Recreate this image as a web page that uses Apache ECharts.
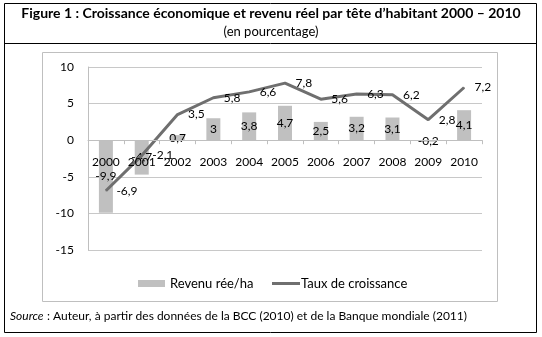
<!DOCTYPE html>
<html><head><meta charset="utf-8">
<script src="https://cdn.jsdelivr.net/npm/echarts@6/dist/echarts.min.js"></script>
<style>html,body{margin:0;padding:0;background:#fff}#c{width:542px;height:337px}</style>
</head><body><div id="c"></div>
<script>
const categories = ['2000','2001','2002','2003','2004','2005','2006','2007','2008','2009','2010'];
const revenu = [-9.9, -4.7, 0.7, 3, 3.8, 4.7, 2.5, 3.2, 3.1, -0.2, 4.1];
const croissance = [-6.9, -2.1, 3.5, 5.8, 6.6, 7.8, 5.6, 6.3, 6.2, 2.8, 7.2];
const yTicks = [-15, -10, -5, 0, 5, 10];

const FONT = 'Lato';
const fmt = v => String(v).replace('.', ',');
const GRID = {left: 88, right: 60, top: 67, bottom: 87};
const gridH = 337 - GRID.top - GRID.bottom;
const yMin = yTicks[0], yMax = yTicks[yTicks.length-1];
const zeroOffset = -gridH * (0 - yMin) / (yMax - yMin);

const chart = echarts.init(document.getElementById('c'), null, {renderer:'canvas'});
chart.setOption({
  animation: false,
  textStyle: {fontFamily: FONT},
  graphic: [
    {type:'rect', shape:{x:4.5,y:3.5,width:532,height:329}, style:{fill:'none', stroke:'#000', lineWidth:1}},
    {type:'line', shape:{x1:4,y1:43.5,x2:537,y2:43.5}, style:{stroke:'#000', lineWidth:1}},
    {type:'rect', shape:{x:42.5,y:52.5,width:455,height:249}, style:{fill:'none', stroke:'#BFBFBF', lineWidth:1}},
    {type:'text', left:'center', top:6, style:{text:"Figure 1 : Croissance économique et revenu réel par tête d\u2019habitant 2000 \u2013 2010", font:'bold 14px Lato', fill:'#000'}},
    {type:'text', left:'center', top:25, style:{text:'(en pourcentage)', font:'13px Lato', fill:'#000'}},
    {type:'text', left:10, top:310, style:{rich:{i:{fontStyle:'italic', fontSize:12, fontFamily:FONT}, n:{fontSize:12, fontFamily:FONT}}, text:'{i|Source} {n|: Auteur, à partir des données de la BCC (2010) et de la Banque mondiale (2011)}', fill:'#000'}}
  ],
  legend: [
    {left: 133, top: 272, itemWidth: 27, itemHeight: 7,
     textStyle: {fontFamily: FONT, fontSize: 13, color:'#000'},
     data: [{name:'Revenu rée/ha', icon:'rect'}]},
    {left: 267, top: 272, itemWidth: 28, itemHeight: 3,
     textStyle: {fontFamily: FONT, fontSize: 13, color:'#000', padding:[0,0,0,-4]},
     data: [{name:'Taux de croissance', icon:'rect'}]}
  ],
  grid: Object.assign({containLabel: false}, GRID),
  xAxis: {
    type: 'category', data: categories, position: 'bottom', offset: zeroOffset, z: 5,
    axisLine: {onZero: false, lineStyle: {color:'#BFBFBF', width:1}},
    axisTick: {show: true, length: 4, lineStyle:{color:'#BFBFBF'}},
    axisLabel: {color:'#000', fontSize:12, fontFamily:FONT, margin:16, interval:0}
  },
  yAxis: {
    type: 'value', min: yMin, max: yMax, interval: 5,
    axisLine: {show: true, lineStyle:{color:'#BFBFBF'}},
    axisTick: {show: false},
    splitLine: {lineStyle:{color:'#C8C8C8'}},
    axisLabel: {color:'#000', fontSize:12, fontFamily:FONT, margin:14}
  },
  series: [
    {name:'Revenu rée/ha', type:'bar', data: revenu, barWidth: 14,
     itemStyle:{color:'#C0C0C0'}, labelLayout:{hideOverlap:false},
     label:{show:true, position:'inside', color:'#000', fontSize:12, fontFamily:FONT, formatter: p => fmt(p.value)}},
    {name:'Taux de croissance', type:'line', data: croissance, symbol:'circle', symbolSize:1, showSymbol:true,
     lineStyle:{color:'#6F6F6F', width:3}, itemStyle:{color:'#6F6F6F'}, labelLayout:{hideOverlap:false},
     label:{show:true, position:'right', distance:10, color:'#000', fontSize:12, fontFamily:FONT, formatter: p => fmt(p.value)}}
  ]
});
</script></body></html>
